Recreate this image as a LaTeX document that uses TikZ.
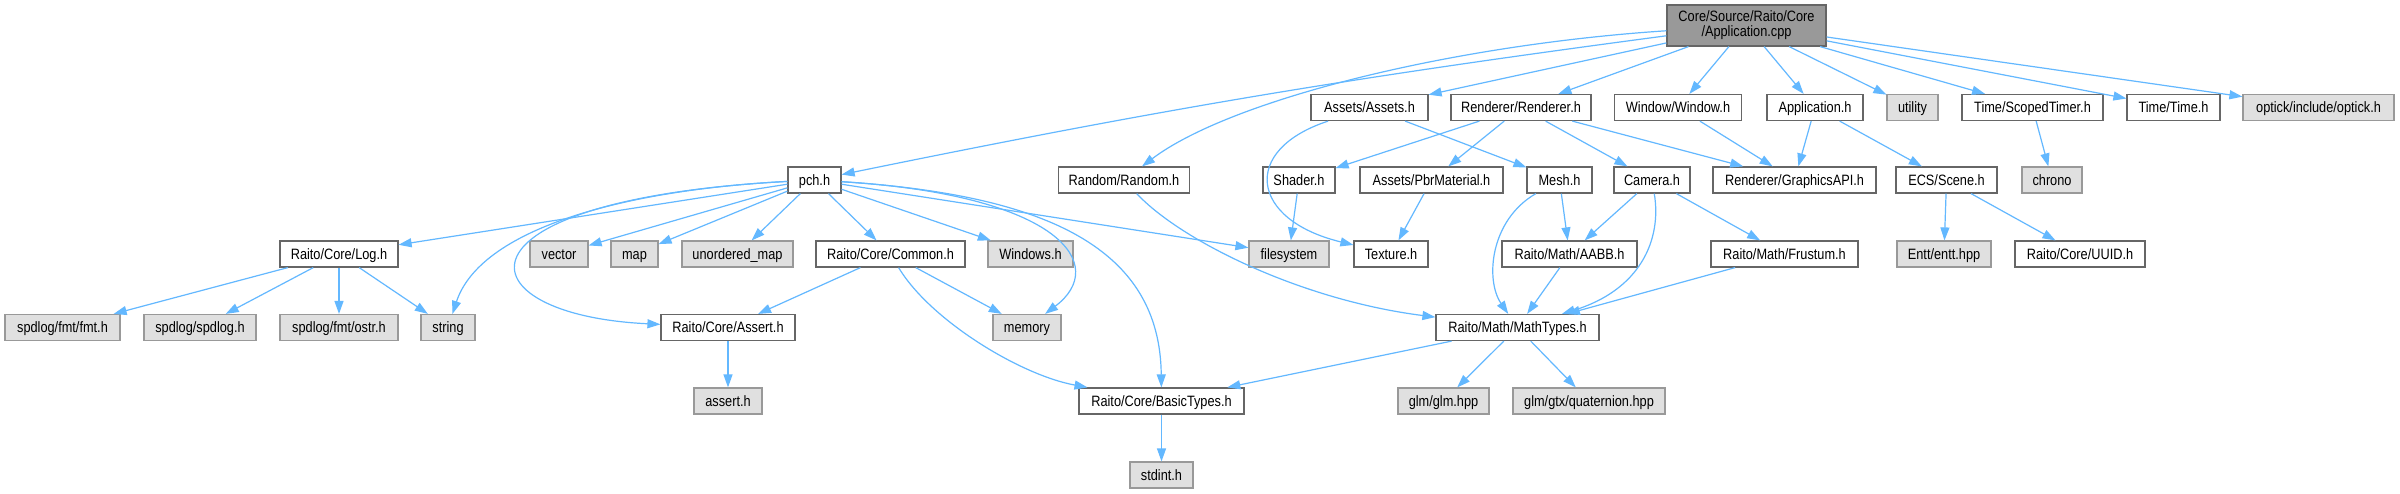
\documentclass[tikz,border=0pt]{standalone}
\usepackage{fontspec}
\setmainfont{Liberation Sans}[FakeStretch=0.85]
\usetikzlibrary{arrows.meta}
\definecolor{edgeblue}{HTML}{63B8FF}
\definecolor{greyforty}{HTML}{666666}
\definecolor{greysixty}{HTML}{999999}
\definecolor{extfill}{HTML}{E0E0E0}
\newcommand\nfont{\fontsize{15}{15}\selectfont}
\tikzset{
  base/.style={line width=1.2pt, minimum height=26pt, inner sep=0pt, text height=10.8pt, text depth=0pt, font=\nfont, anchor=center},
  doc/.style={base, draw=greyforty, fill=white},
  ext/.style={base, draw=greysixty, fill=extfill},
  rootbox/.style={line width=1.2pt, draw=greyforty, fill=greysixty, minimum height=41pt, inner sep=0pt, align=center, font=\nfont, anchor=center},
  edge/.style={draw=edgeblue, line width=1.2pt, -{Triangle[length=13pt,width=9pt,fill=edgeblue]}},
}
\begin{document}
\begin{tikzpicture}[x=1pt,y=-1pt]
\fill[white] (0,0) rectangle (2400,493);
\useasboundingbox (0,0) rectangle (2400,493);
% row 0
\node[rootbox, minimum width=159pt] (root) at (1746.5,25.5) {Core/Source/Raito/Core\\/Application.cpp};
% row 1
\node[doc, minimum width=117pt] (assets) at (1369.5,107.5) {Assets/Assets.h};
\node[doc, minimum width=140pt] (renderer) at (1521,107.5) {Renderer/Renderer.h};
\node[doc, minimum width=127pt] (window) at (1678,107.5) {Window/Window.h};
\node[doc, minimum width=96pt] (apph) at (1815,107.5) {Application.h};
\node[ext, minimum width=51pt] (utility) at (1912.5,107.5) {utility};
\node[doc, minimum width=141pt] (scopedtimer) at (2032.5,107.5) {Time/ScopedTimer.h};
\node[doc, minimum width=93pt] (timeh) at (2173.5,107.5) {Time/Time.h};
\node[ext, minimum width=151pt] (optick) at (2318.5,107.5) {optick/include/optick.h};
% row 2
\node[doc, minimum width=53pt] (pch) at (814.5,180) {pch.h};
\node[doc, minimum width=131pt] (random) at (1124,180) {Random/Random.h};
\node[doc, minimum width=72pt] (shader) at (1299,180) {Shader.h};
\node[doc, minimum width=143pt] (pbr) at (1431.5,180) {Assets/PbrMaterial.h};
\node[doc, minimum width=65pt] (mesh) at (1559.5,180) {Mesh.h};
\node[doc, minimum width=76pt] (camera) at (1652,180) {Camera.h};
\node[doc, minimum width=163pt] (gapi) at (1794.5,180) {Renderer/GraphicsAPI.h};
\node[doc, minimum width=101pt] (scene) at (1946.5,180) {ECS/Scene.h};
\node[ext, minimum width=60pt] (chrono) at (2052,180) {chrono};
% row 3
\node[doc, minimum width=118pt] (log) at (339,254) {Raito/Core/Log.h};
\node[ext, minimum width=58pt] (vector) at (559,254) {vector};
\node[ext, minimum width=47pt] (map) at (634.5,254) {map};
\node[ext, minimum width=111pt] (umap) at (737.5,254) {unordered\_map};
\node[doc, minimum width=149pt] (common) at (890.5,254) {Raito/Core/Common.h};
\node[ext, minimum width=85pt] (windows) at (1030.5,254) {Windows.h};
\node[ext, minimum width=80pt] (filesystem) at (1289,254) {filesystem};
\node[doc, minimum width=74pt] (texture) at (1391,254) {Texture.h};
\node[doc, minimum width=135pt] (aabb) at (1569.5,254) {Raito/Math/AABB.h};
\node[doc, minimum width=147pt] (frustum) at (1784.5,254) {Raito/Math/Frustum.h};
\node[ext, minimum width=94pt] (entt) at (1944,254) {Entt/entt.hpp};
\node[doc, minimum width=130pt] (uuid) at (2080,254) {Raito/Core/UUID.h};
% row 4
\node[ext, minimum width=115pt] (fmt) at (62.5,327.5) {spdlog/fmt/fmt.h};
\node[ext, minimum width=112pt] (spdlog) at (200,327.5) {spdlog/spdlog.h};
\node[ext, minimum width=118pt] (ostr) at (339,327.5) {spdlog/fmt/ostr.h};
\node[ext, minimum width=54pt] (string) at (448,327.5) {string};
\node[doc, minimum width=134pt] (assert) at (728,327.5) {Raito/Core/Assert.h};
\node[ext, minimum width=68pt] (memory) at (1027,327.5) {memory};
\node[doc, minimum width=163pt] (mathtypes) at (1517.5,327.5) {Raito/Math/MathTypes.h};
% row 5
\node[ext, minimum width=68pt] (asserth) at (728,401) {assert.h};
\node[doc, minimum width=165pt] (basic) at (1161.5,401) {Raito/Core/BasicTypes.h};
\node[ext, minimum width=91pt] (glm) at (1443.5,401) {glm/glm.hpp};
\node[ext, minimum width=152pt] (quat) at (1589,401) {glm/gtx/quaternion.hpp};
% row 6
\node[ext, minimum width=63pt] (stdint) at (1161.5,475) {stdint.h};

% edges from root
\draw[edge] (root) to[bend right=2] (pch);
\draw[edge] (root) .. controls (1450,45) and (1230,100) .. (random);
\draw[edge] (root) -- (assets);
\draw[edge] (root) -- (renderer);
\draw[edge] (root) -- (window);
\draw[edge] (root) -- (apph);
\draw[edge] (root) -- (utility);
\draw[edge] (root) -- (scopedtimer);
\draw[edge] (root) -- (timeh);
\draw[edge] (root) -- (optick);
% pch
\draw[edge] (pch) -- (log);
\draw[edge] (pch) .. controls (620,190) and (480,230) .. (string);
\draw[edge] (pch) .. controls (440,200) and (460,315) .. (assert);
\draw[edge] (pch) -- (vector);
\draw[edge] (pch) -- (map);
\draw[edge] (pch) -- (umap);
\draw[edge] (pch) -- (common);
\draw[edge] (pch) -- (windows);
\draw[edge] (pch) .. controls (1060,195) and (1110,265) .. (memory);
\draw[edge] (pch) .. controls (1050,195) and (1160,250) .. (basic);
\draw[edge] (pch) -- (filesystem);
% random
\draw[edge] (random) .. controls (1180,240) and (1300,300) .. (mathtypes);
% assets
\draw[edge] (assets) .. controls (1240,150) and (1250,220) .. (texture);
\draw[edge] (assets) -- (mesh);
% renderer
\draw[edge] (renderer) -- (shader);
\draw[edge] (renderer) -- (pbr);
\draw[edge] (renderer) -- (camera);
\draw[edge] (renderer) -- (gapi);
\draw[edge] (window) -- (gapi);
\draw[edge] (apph) -- (gapi);
\draw[edge] (apph) -- (scene);
\draw[edge] (scopedtimer) -- (chrono);
% row 2 to 3
\draw[edge] (shader) -- (filesystem);
\draw[edge] (pbr) -- (texture);
\draw[edge] (mesh) -- (aabb);
\draw[edge] (mesh) .. controls (1490,220) and (1485,280) .. (mathtypes);
\draw[edge] (camera) -- (aabb);
\draw[edge] (camera) .. controls (1662,240) and (1640,290) .. (mathtypes);
\draw[edge] (camera) -- (frustum);
\draw[edge] (scene) -- (entt);
\draw[edge] (scene) -- (uuid);
% row 3 to 4
\draw[edge] (log) -- (fmt);
\draw[edge] (log) -- (spdlog);
\draw[edge] (log) -- (ostr);
\draw[edge] (log) -- (string);
\draw[edge] (common) -- (assert);
\draw[edge] (common) -- (memory);
\draw[edge] (common) .. controls (930,320) and (1020,375) .. (basic);
\draw[edge] (aabb) -- (mathtypes);
\draw[edge] (frustum) -- (mathtypes);
% lower rows
\draw[edge] (assert) -- (asserth);
\draw[edge] (mathtypes) -- (basic);
\draw[edge] (mathtypes) -- (glm);
\draw[edge] (mathtypes) -- (quat);
\draw[edge] (basic) -- (stdint);
\end{tikzpicture}
\end{document}
